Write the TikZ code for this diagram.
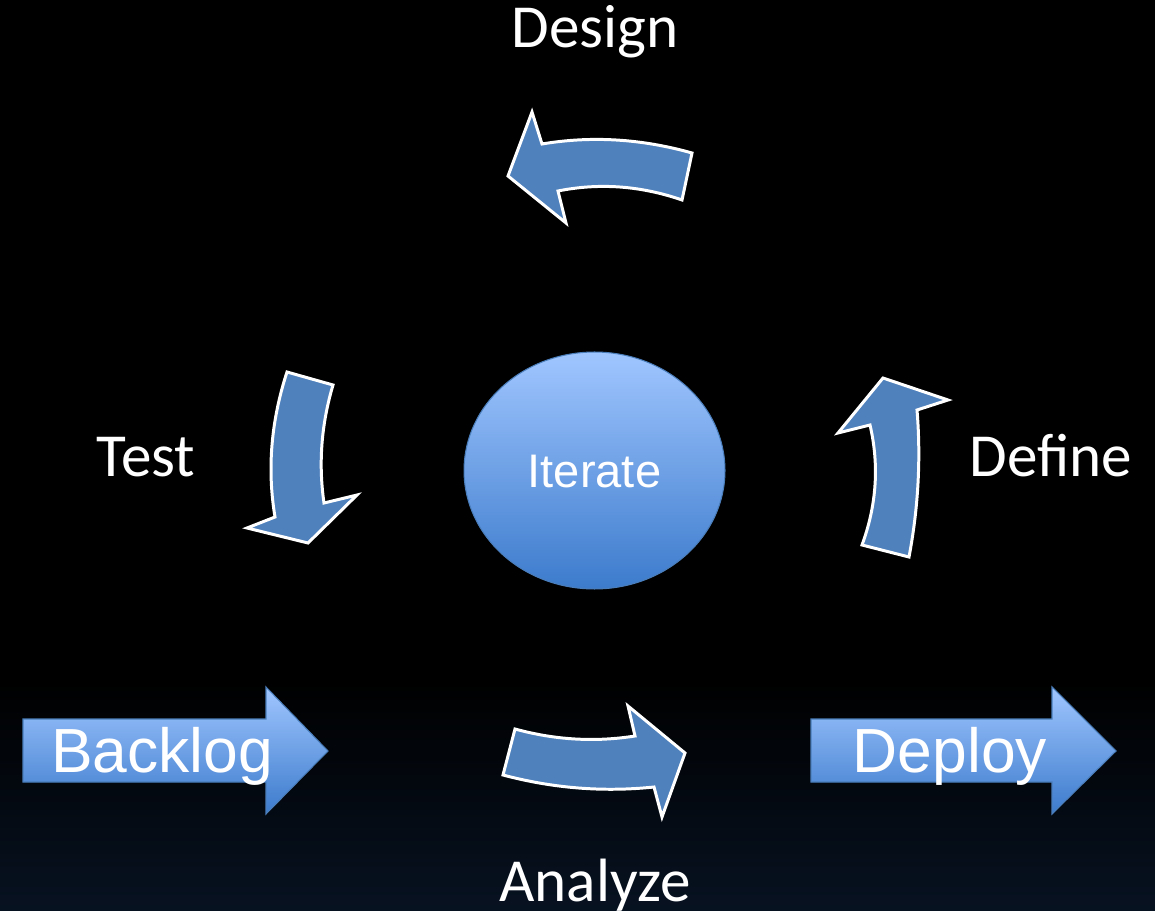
\documentclass[tikz,border=0pt]{standalone}
\usepackage{fontspec}
\setmainfont{Carlito}
\newfontfamily\arialf{Liberation Sans}
\usetikzlibrary{shapes.geometric}
\definecolor{arrowblue}{HTML}{4F81BD}
\definecolor{gradtop}{HTML}{A0C6FF}
\definecolor{gradbot}{HTML}{3C7BCC}
\definecolor{gradedge}{HTML}{4A7EBB}
\definecolor{navybg}{RGB}{7,18,33}
\begin{document}
\begin{tikzpicture}[x=0.02cm,y=-0.02cm,
  curvearrow/.style={fill=arrowblue,draw=white,line width=1.7pt,line join=miter},
  blockarrow/.style={top color=gradtop,bottom color=gradbot,draw=gradedge,line width=0.6pt},
  phase/.style={text=white,font=\fontsize{34.8}{40}\selectfont,inner sep=0pt,anchor=base},
  bigtext/.style={text=white,font=\arialf\fontsize{35.5}{42}\selectfont,inner sep=0pt,anchor=base}]
\useasboundingbox (0,0) rectangle (1155,911);
\fill[black] (0,0) rectangle (1155,911);
\shade[top color=black,bottom color=navybg] (0,680) rectangle (1155,911);

% curved cycle arrows
\path[curvearrow] (508,176) -- (532,112) -- (542,144) .. controls (591.3,135.7) and (641.3,138.7) .. (692,153) -- (682,200) .. controls (640.7,185.7) and (599.3,182.7) .. (558,191) -- (566,223) -- cycle;
\path[curvearrow] (333,385) .. controls (321.3,424.3) and (318.3,463.7) .. (324,503) -- (357,495) -- (308,543) -- (247,528) -- (275,517) .. controls (267,469.3) and (271,421) .. (287,372) -- cycle;
\path[curvearrow] (883,378) -- (948,400) -- (917,410) .. controls (921,458.7) and (918.3,507.7) .. (909,557) -- (862,545) .. controls (876.7,505) and (879.3,465) .. (870,425) -- (838,433) -- cycle;
\path[curvearrow] (515,729) .. controls (555,740) and (595,742.3) .. (635,736) -- (628,706) -- (685,753) -- (662,817) -- (654,787) .. controls (603.3,792.3) and (553,788.3) .. (503,775) -- cycle;

% block arrows
\path[blockarrow] (23,719) -- (266,719) -- (266,687) -- (328,751) -- (266,814) -- (266,782) -- (23,782) -- cycle;
\path[blockarrow] (811,719) -- (1052,719) -- (1052,687) -- (1116,751) -- (1052,814) -- (1052,782) -- (811,782) -- cycle;

% centre
\node[ellipse,minimum width=5.22cm,minimum height=4.74cm,inner sep=0pt,top color=gradtop,bottom color=gradbot,draw=gradedge,line width=0.6pt] (iterate) at (594.5,470.5) {};
\node[text=white,font=\arialf\fontsize{26.8}{32}\selectfont,inner sep=0pt,anchor=base] (iteratetext) at (594.5,488) {Iterate};

% labels
\node[phase] (design) at (595,48) {Design};
\node[phase] (test) at (146,477) {Test};
\node[phase] (define) at (1051,477) {Define};
\node[phase] (analyze) at (595,901) {Analyze};
\node[bigtext] (backlog) at (162,772) {Backlog};
\node[bigtext] (deploy) at (950,772) {Deploy};
\end{tikzpicture}
\end{document}
